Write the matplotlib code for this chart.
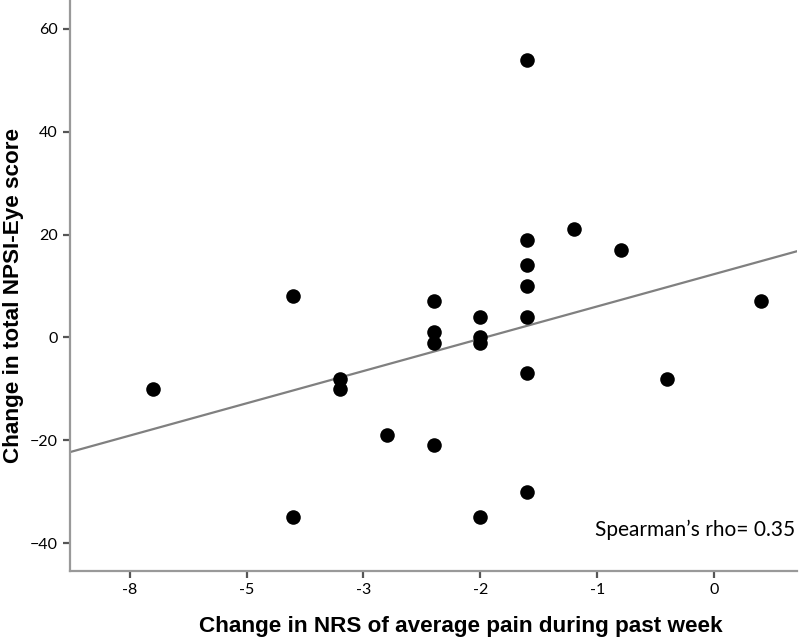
import matplotlib
matplotlib.use("Agg")
import matplotlib.pyplot as plt
import numpy as np

# change in NRS (x) vs change in NPSI-Eye (y)
nrs_change = [-4.8, -3.6, -3.6, -3.2, -3.2, -2.8,
              -2.4, -2.4, -2.4, -2.4,
              -2.0, -2.0, -2.0, -2.0,
              -1.6, -1.6, -1.6, -1.6, -1.6, -1.6, -1.6,
              -1.2, -0.8, -0.4, 0.4]
npsi_change = [-10, 8, -35, -8, -10, -19,
               7, 1, -1, -21,
               4, 0, -1, -35,
               54, 19, 14, 10, 4, -7, -30,
               21, 17, -8, 7]

xtick_pos = [-5, -4, -3, -2, -1, 0]
xtick_labels = ['-8', '-5', '-3', '-2', '-1', '0']
ytick_pos = [-40, -20, 0, 20, 40, 60]

x = np.array(nrs_change)
y = np.array(npsi_change)
slope, intercept = np.polyfit(x, y, 1)

fig = plt.figure(figsize=(8, 6.4), dpi=100)
ax = fig.add_axes([0.0875, 0.108, 0.909, 0.892])

xmin, xmax = -5.51, 0.71
ax.set_xlim(xmin, xmax)
ax.set_ylim(-45.4, 65.6)

xx = np.array([xmin, xmax])
ax.plot(xx, intercept + slope * xx, color='#808080', lw=1.6, zorder=2)
ax.scatter(x, y, s=110, color='black', zorder=3, linewidths=0)

for s in ['top', 'right']:
    ax.spines[s].set_visible(False)
for s in ['left', 'bottom']:
    ax.spines[s].set_color('#999999')
    ax.spines[s].set_linewidth(1.6)

ax.set_xticks(xtick_pos)
ax.set_xticklabels(xtick_labels)
ax.set_yticks(ytick_pos)
ax.tick_params(direction='out', length=5, width=1.6, color='#555555',
               labelsize=11.5, pad=4)
for lab in ax.get_xticklabels() + ax.get_yticklabels():
    lab.set_family('Lato')

ax.set_xlabel('Change in NRS of average pain during past week',
              fontsize=16.2, fontweight='bold', family='Liberation Sans')
ax.set_ylabel('Change in total NPSI-Eye score',
              fontsize=16.2, fontweight='bold', family='Liberation Sans')
ax.xaxis.set_label_coords(0.538, -0.079)
ax.yaxis.set_label_coords(-0.063, 0.483)

ax.text(0.997, 0.072, 'Spearman\u2019s rho= 0.35', transform=ax.transAxes,
        ha='right', va='center', fontsize=15, family='Lato')

fig.savefig('out.png', dpi=100)
